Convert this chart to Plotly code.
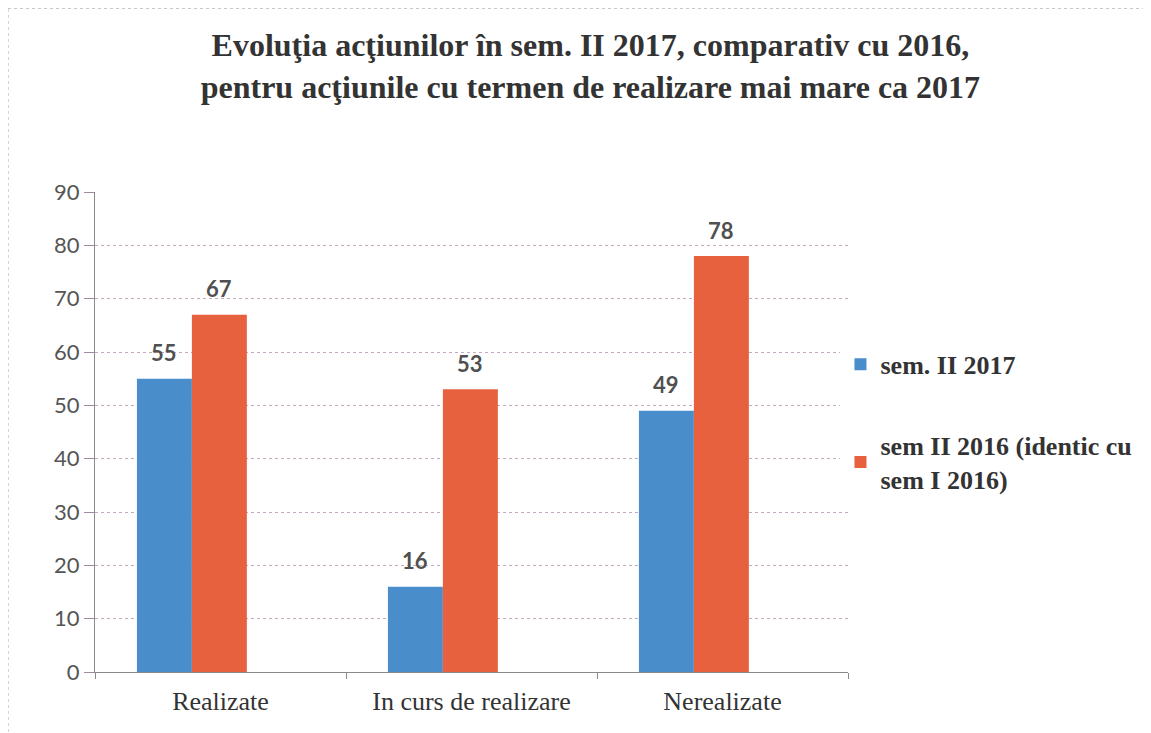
import plotly.graph_objects as go

# data
categories = ['Realizate', 'In curs de realizare', 'Nerealizate']
sem2_2017 = [55, 16, 49]
sem2_2016 = [67, 53, 78]
series_names = ['sem. II 2017', 'sem II 2016 (identic cu<br>sem I 2016)']
y_ticks = [0, 10, 20, 30, 40, 50, 60, 70, 80, 90]

blue = '#4a8dcb'
red = '#e8613f'
serif = 'Liberation Serif, Times New Roman, serif'
sans = 'Lato, Open Sans, sans-serif'

# bars in the reference sit left of the category centre
bar_w = 0.219
off_blue = -0.333
off_red = off_blue + bar_w

fig = go.Figure()
fig.add_trace(go.Bar(x=categories, y=sem2_2017, name=series_names[0], legendgroup='a',
                     width=bar_w, offset=off_blue,
                     marker=dict(color=blue, line=dict(width=0))))
fig.add_trace(go.Bar(x=categories, y=sem2_2016, name=series_names[1], legendgroup='b',
                     width=bar_w, offset=off_red,
                     marker=dict(color=red, line=dict(width=0))))

# value labels sit well above the bars, as in the reference
annotations = []
for vals, off in [(sem2_2017, off_blue), (sem2_2016, off_red)]:
    for i, v in enumerate(vals):
        annotations.append(dict(x=i + off + bar_w / 2, y=v, xref='x', yref='y', text=f'<b>{v}</b>',
                                showarrow=False, yshift=26, yanchor='middle',
                                font=dict(family=sans, size=22, color='#505050')))

fig.update_layout(
    width=1151, height=733,
    margin=dict(l=87, r=311, t=184, b=69),
    paper_bgcolor='white', plot_bgcolor='white',
    barmode='overlay',
    title=dict(text='Evoluţia acţiunilor în sem. II 2017, comparativ cu 2016,<br>'
                    'pentru acţiunile cu termen de realizare mai mare ca 2017',
               x=0.506, xanchor='center', y=0.934, yanchor='middle',
               font=dict(family=serif, size=32, color='#333333', weight='bold')),
    legend=dict(x=0.99, xanchor='left', y=0.69, yanchor='top',
                font=dict(family=serif, size=26, color='#333333', weight='bold'),
                tracegroupgap=44, itemwidth=30, traceorder='grouped'),
    annotations=annotations,
    shapes=[
        dict(type='line', xref='paper', yref='paper', x0=-0.1155, x1=-0.1155, y0=-0.2, y1=1.383,
             line=dict(color='#aaaaaa', width=1, dash='dot')),
        dict(type='line', xref='paper', yref='paper', x0=-0.1155, x1=1.45, y0=1.383, y1=1.383,
             line=dict(color='#aaaaaa', width=1, dash='dot')),
    ],
)

fig.update_xaxes(
    range=[-0.5, 2.5],
    showline=True, linecolor='#8a8a8a', linewidth=1,
    ticks='outside', tickson='boundaries', ticklen=6, tickcolor='#8a8a8a',
    tickfont=dict(family=serif, size=26, color='#333333'),
    ticklabelstandoff=6,
    showgrid=False,
)
fig.update_yaxes(
    range=[0, 90], tickvals=y_ticks,
    showline=True, linecolor='#8a8a8a', linewidth=1,
    ticks='outside', ticklen=10, tickcolor='#a08aa0',
    showgrid=True, gridcolor='#c9a7c0', gridwidth=1, griddash='dot',
    zeroline=False,
    tickfont=dict(family=sans, size=22, color='#555555'),
)

fig.write_html('out.html')
